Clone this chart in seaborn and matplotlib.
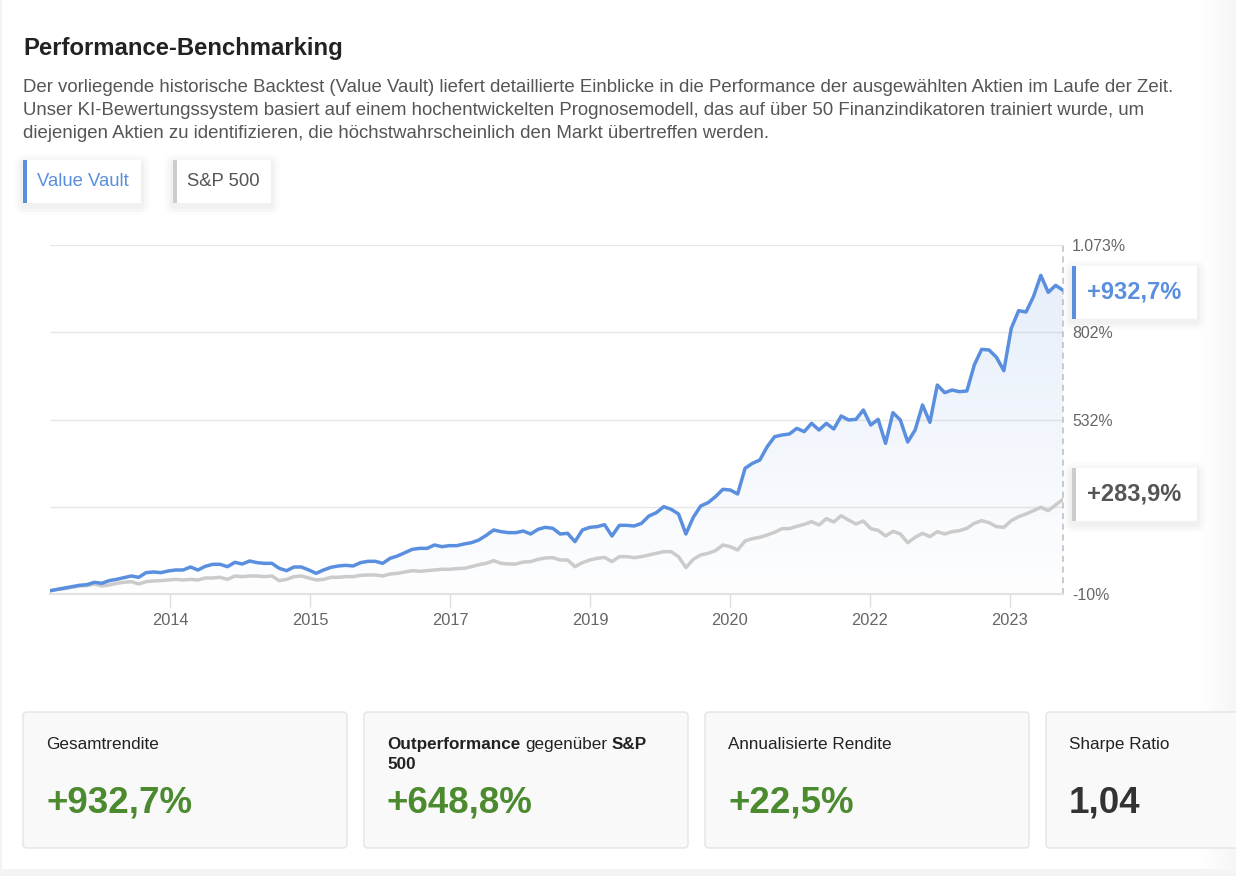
import numpy as np
import pandas as pd
import matplotlib
matplotlib.use("Agg")
import matplotlib.pyplot as plt
from matplotlib.patches import FancyBboxPatch, Rectangle
from matplotlib.colors import LinearSegmentedColormap, to_rgb
import seaborn as sns

# performance in % since start, one value per step
value_vault = [
    0.0, 4.5, 8.7, 12.8, 17.0, 19.0, 26.3, 23.1, 31.4, 35.5,
    40.7, 45.9, 41.8, 56.3, 58.3, 56.3, 61.5, 64.5, 64.5, 73.8,
    64.5, 75.9, 82.1, 82.1, 74.8, 88.3, 83.1, 92.4, 87.3, 85.2,
    85.2, 69.7, 62.4, 73.8, 73.8, 64.5, 54.2, 64.5, 72.8, 77.0,
    79.0, 77.0, 87.3, 91.4, 91.4, 85.2, 100.7, 108.0, 118.3, 128.6,
    131.7, 131.7, 142.1, 136.9, 140.0, 140.0, 145.2, 149.3, 157.6, 172.1,
    188.6, 183.5, 180.4, 180.4, 185.5, 176.2, 190.7, 196.9,
    193.8, 176.2, 178.3, 152.4, 188.6, 196.9, 199.0, 205.2, 170.0, 203.1,
    203.1, 201.0, 209.3, 232.1, 242.4, 261.0, 252.8, 238.3, 176.2, 227.9,
    263.1, 273.4, 292.1, 314.8, 312.7, 300.3, 380.0, 395.5, 405.8, 447.2,
    478.2, 483.4, 486.5, 504.1, 493.8, 519.6, 498.9, 519.6, 502.0, 542.4,
    530.0, 532.0, 561.0, 514.4, 532.0, 457.5, 552.7, 530.0, 461.7, 498.9,
    576.5, 522.7, 638.5, 614.8, 623.0, 617.9, 619.9, 700.6, 749.2, 747.2,
    724.4, 683.0, 814.4, 869.2, 865.1, 912.6, 978.8, 926.1, 947.8, 932.7,
]
sp500 = [
    0.0, 4.5, 6.6, 10.7, 14.9, 15.9, 21.1, 14.9, 18.0, 23.1,
    26.3, 28.3, 21.1, 28.3, 30.4, 31.4, 33.5, 35.5, 33.5, 35.5,
    33.5, 39.7, 39.7, 41.8, 35.5, 45.9, 43.8, 45.9, 45.9, 43.8,
    45.9, 31.4, 35.5, 43.8, 45.9, 39.7, 33.5, 35.5, 41.8, 41.8,
    43.8, 43.8, 48.0, 49.0, 49.0, 45.9, 52.1, 54.2, 58.3, 62.4,
    60.4, 62.4, 64.5, 66.6, 66.6, 68.6, 69.7, 74.8, 81.1, 85.2,
    93.5, 85.2, 83.1, 83.1, 89.3, 90.4, 97.6, 101.8,
    102.8, 95.5, 95.5, 74.8, 87.3, 95.5, 100.7, 103.8, 90.4, 105.9,
    105.9, 102.8, 105.9, 111.1, 116.2, 121.4, 121.4, 105.9, 71.8, 97.6,
    111.1, 116.2, 124.5, 142.1, 136.9, 126.6, 154.5, 161.8, 165.9, 173.1,
    181.4, 192.8, 192.8, 200.0, 206.2, 214.5, 204.1, 223.8, 213.5, 233.1,
    219.6, 207.3, 216.6, 192.8, 187.6, 170.0, 184.5, 176.2, 149.3, 165.9,
    178.3, 167.9, 183.5, 176.2, 183.5, 186.6, 193.8, 209.3, 217.6, 211.4,
    199.0, 196.9, 217.6, 230.0, 238.3, 248.6, 259.0, 248.6, 266.2, 283.9,
]
year_labels = ['2014', '2015', '2017', '2019', '2020', '2022', '2023']
y_min, y_max = -10, 1073

title = 'Performance-Benchmarking'
intro = [
    'Der vorliegende historische Backtest (Value Vault) liefert detaillierte Einblicke in die Performance der ausgewählten Aktien im Laufe der Zeit.',
    'Unser KI-Bewertungssystem basiert auf einem hochentwickelten Prognosemodell, das auf über 50 Finanzindikatoren trainiert wurde, um',
    'diejenigen Aktien zu identifizieren, die höchstwahrscheinlich den Markt übertreffen werden.',
]
# each title is a list of lines, each line a list of (text, bold) pieces
stat_titles = [
    [[('Gesamtrendite', False)]],
    [[('Outperformance', True), ('gegenüber', False), ('S&P', True)], [('500', True)]],
    [[('Annualisierte Rendite', False)]],
    [[('Sharpe Ratio', False)]],
]
stat_values = ['+932,7%', '+648,8%', '+22,5%', '1,04']

BLUE = '#5a8fdf'
GREY_LINE = '#cbcbcb'
GREEN = '#4b8a2e'
W, H = 1236, 876

sns.set_style('white')
plt.rcParams['font.family'] = ['Liberation Sans', 'DejaVu Sans']


def pct(v):
    return f'{v:,.0f}%'.replace(',', '.')


def box(a, x0, y0, w, h, face, edge='none', lw=0, rad=0.0, shadow=False, z=2):
    if shadow:
        for k, al in [(9, 0.012), (6, 0.018), (3, 0.025)]:
            a.add_patch(FancyBboxPatch((x0 - k, y0 - k + 3), w + 2 * k, h + 2 * k,
                                       boxstyle=f'round,pad=0,rounding_size={k + 2}',
                                       fc='black', ec='none', alpha=al, zorder=z - 0.5))
    a.add_patch(FancyBboxPatch((x0, y0), w, h, boxstyle=f'round,pad=0,rounding_size={rad}',
                               fc=face, ec=edge, lw=lw, zorder=z))


fig = plt.figure(figsize=(W / 100, H / 100), dpi=100)
fig.patch.set_facecolor('white')
renderer = fig.canvas.get_renderer()

bg = fig.add_axes([0, 0, 1, 1], zorder=0)
bg.axis('off')

# page edge / shadows
bg.add_patch(Rectangle((0, 869), W, 7, fc='#f4f4f4', ec='none', zorder=1))
bg.add_patch(Rectangle((0, 0), 2, 869, fc='#f3f3f3', ec='none', zorder=1))
edge_cmap = LinearSegmentedColormap.from_list('edge', ['#ffffff', '#f6f6f6'])
bg.imshow(np.linspace(0, 1, 64).reshape(1, -1), cmap=edge_cmap, extent=[1200, W, 869, 0],
          aspect='auto', zorder=0.5)
bg.set_xlim(0, W)
bg.set_ylim(H, 0)

# header
bg.text(23, 48, title, fontsize=17.2, weight='bold', color='#222222', va='center')
for i, line in enumerate(intro):
    bg.text(23, 87 + i * 23.5, line, fontsize=13.45, color='#555555', va='center')

# series buttons
for x0, w, name, col, tcol in [(23, 118, 'Value Vault', BLUE, BLUE),
                                (173, 98, 'S&P 500', '#cccccc', '#555555')]:
    box(bg, x0, 160, w, 43, 'white', shadow=True)
    bg.add_patch(Rectangle((x0, 160), 3.5, 43, fc=col, ec='none', zorder=3))
    bg.text(x0 + 14, 182, name, fontsize=13.3, color=tcol, va='center', zorder=4)

# stat cards
label_size = 12.3
probe = bg.text(0, 0, 'x x', fontsize=label_size)
gap = probe.get_window_extent(renderer).width
probe.set_text('xx')
gap -= probe.get_window_extent(renderer).width
probe.remove()
to_data = bg.transData.inverted()
for i, (lines, val) in enumerate(zip(stat_titles, stat_values)):
    x0 = 23 + i * 341
    box(bg, x0, 712, 324, 136, '#f9f9f9', edge='#e4e4e4', lw=1, rad=4)
    for j, pieces in enumerate(lines):
        x = x0 + 23
        for txt, bold in pieces:
            t = bg.text(x, 749 + j * 20, txt, fontsize=label_size, color='#222222',
                        va='baseline', weight='bold' if bold else 'normal', zorder=4)
            x1 = t.get_window_extent(renderer).x1
            x = to_data.transform((x1, 0))[0] + gap
    bg.text(x0 + 23, 803, val, fontsize=26.5, weight='bold', va='center', zorder=4,
            color='#333333' if i == 3 else GREEN)

# chart
ax = fig.add_axes([50 / W, (H - 594) / H, 1013 / W, 349 / H], zorder=2)
ax.patch.set_alpha(0)
n = len(value_vault)
steps = np.arange(n)
df = pd.DataFrame({
    'step': np.concatenate([steps, steps]),
    'rendite': value_vault + sp500,
    'serie': ['Value Vault'] * n + ['S&P 500'] * n,
})

area = ax.fill_between(steps, value_vault, y_min, color='none', lw=0)
r, g, b = to_rgb(BLUE)
fill_cmap = LinearSegmentedColormap.from_list('fill', [(r, g, b, 0.01), (r, g, b, 0.16)])
grad = ax.imshow(np.linspace(0, 1, 256).reshape(-1, 1), cmap=fill_cmap, origin='lower',
                 extent=[0, n - 1, y_min, y_max], aspect='auto', zorder=1)
grad.set_clip_path(area.get_paths()[0], transform=ax.transData)

sns.lineplot(data=df, x='step', y='rendite', hue='serie', hue_order=['S&P 500', 'Value Vault'],
             palette={'Value Vault': BLUE, 'S&P 500': GREY_LINE}, estimator=None,
             linewidth=2.5, legend=False, ax=ax, zorder=3)

ax.set_xlim(0, n - 1)
ax.set_ylim(y_min, y_max)
y_ticks = np.linspace(y_min, y_max, 5)
ax.set_yticks(y_ticks)
# the second label sits behind the S&P end-value box in the original
ax.set_yticklabels(['' if k == 1 else pct(v) for k, v in enumerate(y_ticks)])
ax.yaxis.tick_right()
ax.tick_params(axis='y', length=0, pad=6.5, labelsize=11.4, labelcolor='#666666')
ax.grid(axis='y', color='#e7e7e7', lw=1)
ax.grid(axis='x', visible=False)

tick_step = (n - 1) * 140 / 1013
x_ticks = [(n - 1) * 120 / 1013 + k * tick_step for k in range(len(year_labels))]
ax.set_xticks(x_ticks)
ax.set_xticklabels(year_labels)
ax.tick_params(axis='x', bottom=True, length=9.5, width=1, color='#dddddd', pad=4,
               labelsize=11.8, labelcolor='#666666')
for s in ['top', 'left', 'right']:
    ax.spines[s].set_visible(False)
ax.spines['bottom'].set_color('#e2e2e2')
ax.spines['bottom'].set_linewidth(1.5)
ax.set_xlabel('')
ax.set_ylabel('')
ax.axvline(n - 1, color='#bdbdbd', ls=(0, (4, 3)), lw=1.1, clip_on=False, zorder=2)

# end value labels
top = fig.add_axes([0, 0, 1, 1], zorder=10)
top.set_xlim(0, W)
top.set_ylim(H, 0)
top.axis('off')
for series, col, tcol, nudge in [(value_vault, BLUE, BLUE, 2), (sp500, '#cccccc', '#555555', -5)]:
    yc = H - ax.transData.transform((n - 1, series[-1]))[1] + nudge
    box(top, 1072, yc - 26.5, 125, 53, 'white', shadow=True)
    top.add_patch(Rectangle((1072, yc - 26.5), 3.5, 53, fc=col, ec='none', zorder=3))
    top.text(1087, yc, f'+{series[-1]:.1f}%'.replace('.', ','), fontsize=17, weight='bold',
             color=tcol, va='center', zorder=4)

plt.savefig('out.png', dpi=100)
